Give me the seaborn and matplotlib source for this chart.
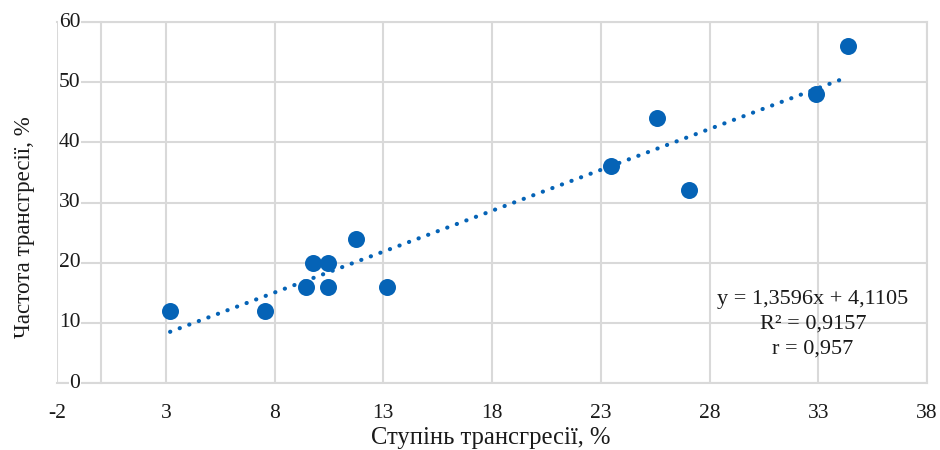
import matplotlib
matplotlib.use("Agg")
import matplotlib.pyplot as plt
import seaborn as sns
import pandas as pd

# Data
stupin = [3.2, 7.56, 9.45, 9.77, 10.46, 10.46, 11.75, 13.17, 23.47, 25.57, 27.07, 32.88, 34.38]
chastota = [12, 12, 16, 20, 20, 16, 24, 16, 36, 44, 32, 48, 56]
x_ticks = [-2, 3, 8, 13, 18, 23, 28, 33, 38]
y_ticks = [0, 10, 20, 30, 40, 50, 60]
x_title = "Ступінь трансгресії, %"
y_title = "Частота трансгресії, %"
eq_text = "y = 1,3596x + 4,1105\nR² = 0,9157\nr = 0,957"

df = pd.DataFrame({"x": stupin, "y": chastota})

sns.set_style("white")
plt.rcParams["font.family"] = ["Liberation Serif", "DejaVu Serif"]

W, H = 940, 450
fig = plt.figure(figsize=(W / 100, H / 100), dpi=100)
ax = fig.add_axes([57 / W, 1 - 383 / H, (927 - 57) / W, (383 - 22) / H])

blue = "#0563B6"
grid_c = "#D9D9D9"
txt_c = "#1a1a1a"

sns.regplot(data=df, x="x", y="y", ax=ax, scatter=False, ci=None, truncate=True,
            line_kws=dict(color=blue, linewidth=3.0, linestyle=(0, (0.05, 2.4)),
                          dash_capstyle="round", zorder=3))
sns.scatterplot(data=df, x="x", y="y", ax=ax, s=150, color=blue, edgecolor=blue,
                linewidth=0, zorder=4)

ax.set_xlim(-2, 38)
ax.set_ylim(0, 60)
ax.set_xticks(x_ticks)
ax.set_yticks(y_ticks)
ax.set_xticklabels([str(v) for v in x_ticks])
ax.set_yticklabels([])
ax.grid(True, color=grid_c, linewidth=1.5, zorder=0)
ax.set_axisbelow(True)

ax.spines["left"].set_position(("data", 0))
for s in ["left", "right", "top", "bottom"]:
    ax.spines[s].set_color(grid_c)
    ax.spines[s].set_linewidth(1.5)
ax.tick_params(axis="both", length=0, labelsize=15.5, colors=txt_c)
ax.tick_params(axis="x", pad=15)
ax.set_xlabel("")
ax.set_ylabel("")

# y tick labels sit beside the vertical axis (x = 0), over the gridlines
for v in y_ticks:
    ax.annotate(str(v), xy=(0, v), xycoords="data", xytext=(-14.5, 0),
                textcoords="offset points", ha="right", va="center",
                fontsize=15.5, color=txt_c, zorder=6, annotation_clip=False,
                bbox=dict(facecolor="white", edgecolor="none", pad=0.3))

fig.text(491 / W, 1 - 438 / H, x_title, ha="center", va="center", fontsize=17.7, color=txt_c)
fig.text(25 / W, 1 - 227 / H, y_title, ha="center", va="center", rotation=90, fontsize=16.5, color=txt_c)
ax.text(813 / W, 1 - 324 / H, eq_text, transform=fig.transFigure, ha="center", va="center",
        multialignment="center", fontsize=16, color=txt_c, linespacing=1.4)

fig.savefig("out.png", dpi=100)
